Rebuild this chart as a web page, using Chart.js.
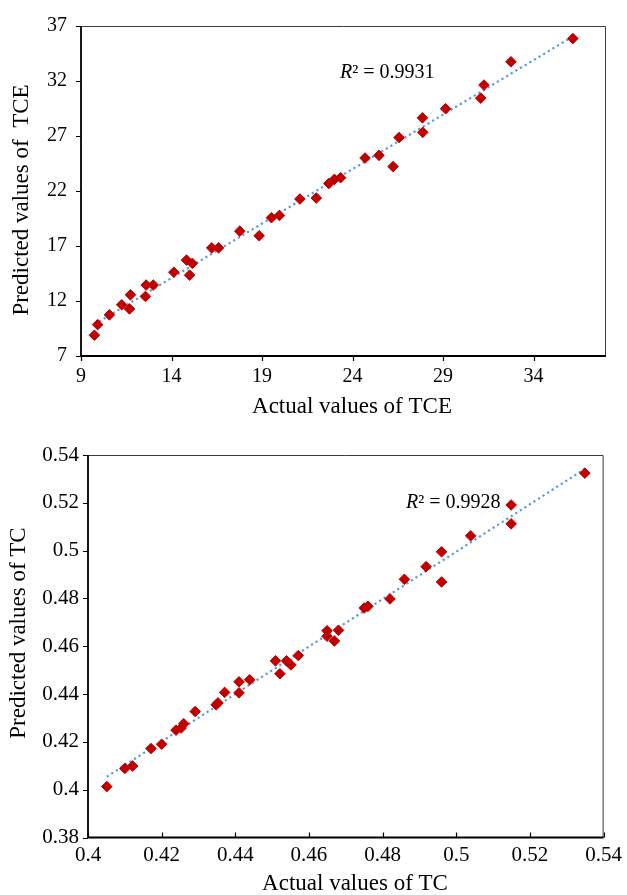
<!DOCTYPE html>
<html>
<head>
<meta charset="utf-8">
<script src="https://cdn.jsdelivr.net/npm/chart.js@4.4.1/dist/chart.umd.min.js"></script>
<style>
  html, body { margin: 0; padding: 0; background: #fff; }
  body { width: 627px; height: 895px; position: relative; overflow: hidden; }
  .panel { position: absolute; left: 0; width: 627px; }
  #panelTop { top: 0; height: 425px; }
  #panelBottom { top: 425px; height: 470px; }
</style>
</head>
<body>
<div class="panel" id="panelTop"><canvas id="chartTCE"></canvas></div>
<div class="panel" id="panelBottom"><canvas id="chartTC"></canvas></div>
<script>
// ---- TCE: actual vs predicted ----
const tceActual = [9.74, 9.92, 10.57, 11.25, 11.68, 11.73, 12.56, 12.60, 12.99, 14.13,
  14.83, 15.00, 15.15, 16.22, 16.60, 17.77, 18.84, 19.52, 19.96, 21.09,
  22.00, 22.69, 23.00, 23.34, 24.69, 25.46, 26.24, 26.57, 27.86, 27.88,
  29.14, 31.08, 31.26, 32.75, 36.17];
const tcePredicted = [8.89, 9.85, 10.74, 11.66, 11.28, 12.56, 12.41, 13.45, 13.45, 14.62,
  15.72, 14.35, 15.42, 16.83, 16.83, 18.35, 17.93, 19.57, 19.78, 21.27,
  21.36, 22.68, 23.06, 23.21, 25.00, 25.24, 24.22, 26.86, 28.65, 27.33,
  29.48, 30.44, 31.63, 33.75, 35.86];
const tceTrendX = [9.74, 36.17];
const tceTrendY = [9.87, 36.05];
const tceR2 = '0.9931';
const tceXTicks = [9, 14, 19, 24, 29, 34];
const tceYTicks = [7, 12, 17, 22, 27, 32, 37];

// ---- TC: actual vs predicted ----
const tcActual = [0.4051, 0.4100, 0.4121, 0.4171, 0.4200, 0.4239, 0.4253, 0.4260, 0.4291, 0.4348,
  0.4353, 0.4371, 0.4410, 0.4410, 0.4439, 0.4509, 0.4521, 0.4539, 0.4551, 0.4571,
  0.4649, 0.4649, 0.4669, 0.4680, 0.4750, 0.4760, 0.4820, 0.4859, 0.4918, 0.4960,
  0.4960, 0.5039, 0.5149, 0.5149, 0.5349];
const tcPredicted = [0.4013, 0.4089, 0.4099, 0.4172, 0.4190, 0.4249, 0.4258, 0.4276, 0.4327, 0.4355,
  0.4363, 0.4407, 0.4451, 0.4405, 0.4460, 0.4539, 0.4485, 0.4539, 0.4522, 0.4561,
  0.4665, 0.4642, 0.4622, 0.4667, 0.4760, 0.4767, 0.4798, 0.4880, 0.4933, 0.4995,
  0.4869, 0.5062, 0.5191, 0.5112, 0.5324];
const tcTrendX = [0.4051, 0.5349];
const tcTrendY = [0.4054, 0.5342];
const tcR2 = '0.9928';
const tcXTicks = [0.4, 0.42, 0.44, 0.46, 0.48, 0.5, 0.52, 0.54];
const tcYTicks = [0.38, 0.4, 0.42, 0.44, 0.46, 0.48, 0.5, 0.52, 0.54];

const SERIF = '"Liberation Serif", "Times New Roman", serif';
const MARKER = '#C00000';
const TREND = '#5B9BD5';

const pairs = (xs, ys) => xs.map((x, i) => ({ x: x, y: ys[i] }));

// Frame, tick marks, axis titles and the R² note
const framePlugin = {
  id: 'frame',
  beforeDatasetsDraw(chart, args, o) {
    const { ctx, chartArea: a, scales } = chart;
    ctx.save();
    // top/right frame
    ctx.strokeStyle = '#3a3a3a';
    ctx.lineWidth = 1;
    ctx.beginPath();
    ctx.moveTo(a.left, a.top + 0.5);
    ctx.lineTo(a.right - 0.5, a.top + 0.5);
    ctx.lineTo(a.right - 0.5, a.bottom);
    ctx.stroke();
    // left/bottom axis lines
    ctx.strokeStyle = '#000';
    ctx.lineWidth = 1.8;
    ctx.beginPath();
    ctx.moveTo(a.left, a.top);
    ctx.lineTo(a.left, a.bottom);
    ctx.lineTo(a.right, a.bottom);
    ctx.stroke();
    // tick marks
    ctx.lineWidth = 1.2;
    ctx.beginPath();
    o.xTicks.forEach(v => {
      const px = Math.round(scales.x.getPixelForValue(v)) + 0.5;
      ctx.moveTo(px, a.bottom);
      ctx.lineTo(px, a.bottom + o.xTickDir * 5);
    });
    o.yTicks.forEach(v => {
      const py = Math.round(scales.y.getPixelForValue(v)) + 0.5;
      ctx.moveTo(a.left, py);
      ctx.lineTo(a.left - 5, py);
    });
    ctx.stroke();
    ctx.restore();
  },
  afterDraw(chart, args, o) {
    const { ctx } = chart;
    ctx.save();
    ctx.fillStyle = '#000';
    ctx.textBaseline = 'middle';
    ctx.textAlign = 'center';
    ctx.font = o.titleSize + 'px ' + SERIF;
    // x title
    ctx.fillText(o.xTitle, o.xTitlePos[0], o.xTitlePos[1]);
    // y title
    ctx.save();
    ctx.translate(o.yTitlePos[0], o.yTitlePos[1]);
    ctx.rotate(-Math.PI / 2);
    ctx.fillText(o.yTitle, 0, 0);
    ctx.restore();
    // R² note: italic R, then the rest upright
    ctx.textAlign = 'left';
    let x = o.notePos[0];
    const y = o.notePos[1];
    ctx.font = 'italic ' + o.noteSize + 'px ' + SERIF;
    ctx.fillText('R', x, y);
    x += ctx.measureText('R').width;
    ctx.font = o.noteSize + 'px ' + SERIF;
    ctx.fillText('\u00B2 = ' + o.noteValue, x, y);
    ctx.restore();
  }
};

function makeChart(id, cfg) {
  const tickValues = list => function (scale) {
    scale.ticks = list.map(v => ({ value: v }));
  };
  return new Chart(document.getElementById(id), {
    type: 'scatter',
    data: {
      datasets: [
        {
          label: 'points',
          data: pairs(cfg.xs, cfg.ys),
          pointStyle: 'rectRot',
          pointRadius: 5.3,
          pointBorderWidth: 1,
          backgroundColor: MARKER,
          borderColor: MARKER,
          order: 1
        },
        {
          label: 'trend',
          data: pairs(cfg.trendX, cfg.trendY),
          showLine: true,
          pointRadius: 0,
          borderColor: TREND,
          borderWidth: 2.2,
          borderDash: [2.2, 3.2],
          fill: false,
          order: 2
        }
      ]
    },
    options: {
      responsive: true,
      maintainAspectRatio: false,
      animation: false,
      events: [],
      layout: { padding: cfg.padding },
      plugins: {
        legend: { display: false },
        tooltip: { enabled: false },
        frame: cfg.frame
      },
      scales: {
        x: {
          type: 'linear',
          min: cfg.xMin, max: cfg.xMax,
          afterBuildTicks: tickValues(cfg.xTicks),
          afterFit: s => { s.height = cfg.xAxisHeight; },
          grid: { display: false, drawTicks: false },
          border: { display: false },
          ticks: {
            autoSkip: false, maxRotation: 0,
            padding: cfg.xLabelPad,
            color: '#000',
            font: { family: SERIF, size: cfg.tickSize },
            callback: v => String(v)
          }
        },
        y: {
          type: 'linear',
          min: cfg.yMin, max: cfg.yMax,
          afterBuildTicks: tickValues(cfg.yTicks),
          afterFit: s => { s.width = cfg.yAxisWidth; },
          grid: { display: false, drawTicks: false },
          border: { display: false },
          ticks: {
            autoSkip: false,
            padding: cfg.yLabelPad,
            color: '#000',
            font: { family: SERIF, size: cfg.tickSize },
            callback: v => String(v)
          }
        }
      }
    },
    plugins: [framePlugin]
  });
}

makeChart('chartTCE', {
  xs: tceActual, ys: tcePredicted, trendX: tceTrendX, trendY: tceTrendY,
  xMin: 9, xMax: 38, yMin: 7, yMax: 37,
  xTicks: tceXTicks, yTicks: tceYTicks,
  padding: { top: 21, right: 21, bottom: 0, left: 0 },
  xAxisHeight: 69, yAxisWidth: 81,
  xLabelPad: 9, yLabelPad: 14,
  tickSize: 20,
  frame: {
    xTicks: tceXTicks, yTicks: tceYTicks, xTickDir: 1,
    titleSize: 23,
    xTitle: 'Actual values of TCE', xTitlePos: [352, 407],
    yTitle: 'Predicted values of  TCE', yTitlePos: [22, 200],
    noteSize: 20, noteValue: tceR2, notePos: [340, 73]
  }
});

makeChart('chartTC', {
  xs: tcActual, ys: tcPredicted, trendX: tcTrendX, trendY: tcTrendY,
  xMin: 0.4, xMax: 0.54, yMin: 0.38, yMax: 0.54,
  xTicks: tcXTicks, yTicks: tcYTicks,
  padding: { top: 30, right: 21, bottom: 0, left: 0 },
  xAxisHeight: 57.5, yAxisWidth: 88,
  xLabelPad: 5, yLabelPad: 9,
  tickSize: 21,
  frame: {
    xTicks: tcXTicks, yTicks: tcYTicks, xTickDir: -1,
    titleSize: 23,
    xTitle: 'Actual values of TC', xTitlePos: [355, 459],
    yTitle: 'Predicted values of TC', yTitlePos: [19, 208],
    noteSize: 20, noteValue: tcR2, notePos: [406, 78]
  }
});
</script>
</body>
</html>
